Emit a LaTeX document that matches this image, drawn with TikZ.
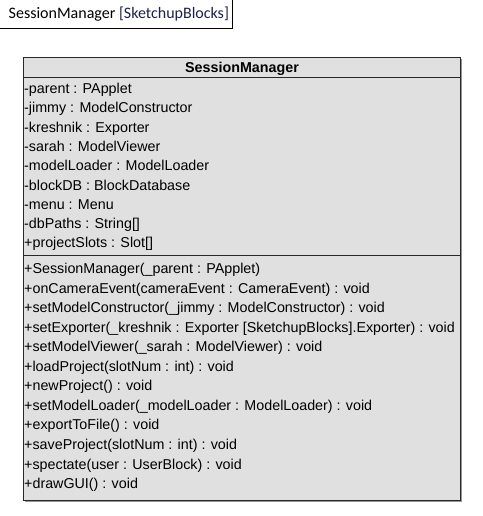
\documentclass[tikz,border=0pt]{standalone}
\usepackage{fontspec}
\setmainfont{Liberation Sans}
\newfontfamily\titlefont{Carlito}
\definecolor{boxfill}{RGB}{224,224,224}
\definecolor{boxline}{RGB}{40,40,40}
\definecolor{shadowc}{RGB}{150,150,150}
\definecolor{pkgblue}{RGB}{28,34,72}
\begin{document}
\begin{tikzpicture}[x=1pt,y=-1pt,
  member/.style={anchor=base west,inner sep=0pt,font=\fontsize{14.3}{16}\selectfont,text=black},
  header/.style={anchor=base,inner sep=0pt,font=\fontsize{14.3}{16}\selectfont\bfseries,text=black},
  titletext/.style={anchor=base west,inner sep=0pt,font=\titlefont\fontsize{16}{18}\selectfont,text=black},
  frameline/.style={draw=black,line width=1pt},
  classline/.style={draw=boxline,line width=1pt}]
\useasboundingbox (0,0) rectangle (482,516);
% title frame
\begin{scope}
\clip (0,0) rectangle (482,516);
\draw[frameline,fill=white] (-2,-2) rectangle (232,28.3);
\end{scope}
\node[titletext] (title) at (8.5,18.6) {SessionManager \textcolor{pkgblue}{[SketchupBlocks]}};
% class box
\fill[shadowc] (25,59) rectangle (462,502);
\draw[classline,fill=boxfill] (23.5,57.5) rectangle (460.5,500.5);
\coordinate (h1l) at (23.5,77.7);
\coordinate (h1r) at (460.5,77.7);
\coordinate (h2l) at (23.5,255.8);
\coordinate (h2r) at (460.5,255.8);
\draw[classline] (h1l) -- (h1r);
\draw[classline] (h2l) -- (h2r);
\node[header] (cname) at (242,72.5) {SessionManager};
\foreach \t [count=\i from 0] in {%
  -parent : PApplet,
  -jimmy : ModelConstructor,
  -kreshnik : Exporter,
  -sarah : ModelViewer,
  -modelLoader : ModelLoader,
  -blockDB : BlockDatabase,
  -menu : Menu,
  -dbPaths : String[],
  +projectSlots : Slot[]}
  \node[member] (attr\i) at (24,93.5+\i*19.3) {\t};
\foreach \t [count=\i from 0] in {%
  +SessionManager(\_parent : PApplet),
  +onCameraEvent(cameraEvent : CameraEvent) : void,
  +setModelConstructor(\_jimmy : ModelConstructor) : void,
  +setExporter(\_kreshnik : Exporter [SketchupBlocks].Exporter) : void,
  +setModelViewer(\_sarah : ModelViewer) : void,
  +loadProject(slotNum : int) : void,
  +newProject() : void,
  +setModelLoader(\_modelLoader : ModelLoader) : void,
  +exportToFile() : void,
  +saveProject(slotNum : int) : void,
  +spectate(user : UserBlock) : void,
  +drawGUI() : void}
  \node[member] (meth\i) at (24,273.5+\i*19.55) {\t};
\end{tikzpicture}
\end{document}
